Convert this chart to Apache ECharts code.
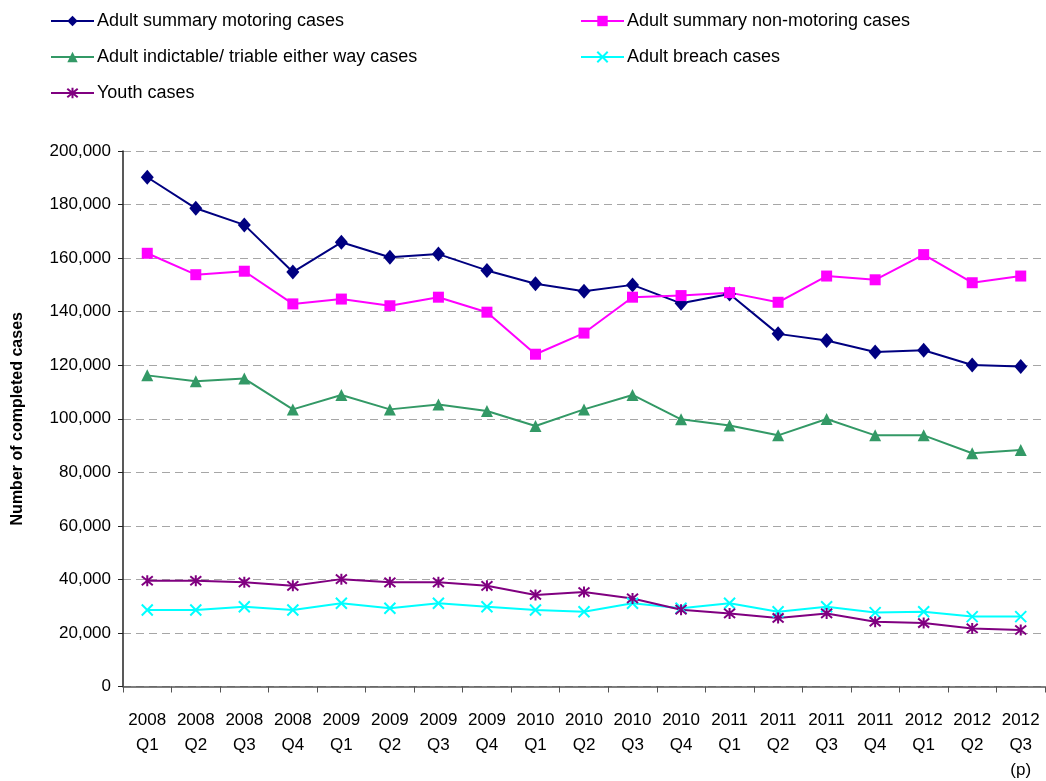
<!DOCTYPE html>
<html>
<head>
<meta charset="utf-8">
<script src="https://cdn.jsdelivr.net/npm/echarts@6/dist/echarts.min.js"></script>
<style>
  html, body { margin: 0; padding: 0; background: #fff; }
  #chart { width: 1046px; height: 781px; }
</style>
</head>
<body>
<div id="chart"></div>
<script>
// Quarterly completed cases, 2008 Q1 to 2012 Q3 (provisional)
const quarters = [
  '2008\nQ1', '2008\nQ2', '2008\nQ3', '2008\nQ4',
  '2009\nQ1', '2009\nQ2', '2009\nQ3', '2009\nQ4',
  '2010\nQ1', '2010\nQ2', '2010\nQ3', '2010\nQ4',
  '2011\nQ1', '2011\nQ2', '2011\nQ3', '2011\nQ4',
  '2012\nQ1', '2012\nQ2', '2012\nQ3\n(p)'
];

const summaryMotoring = [
  190200, 178600, 172400, 154800, 165900, 160300, 161500, 155400, 150400,
  147600, 150000, 143100, 146600, 131700, 129200, 124900, 125600, 120100, 119500
];
const summaryNonMotoring = [
  161800, 153800, 155100, 142900, 144700, 142200, 145400, 139800, 124100,
  132000, 145400, 146000, 147100, 143500, 153300, 151900, 161300, 150800, 153300
];
const indictableEitherWay = [
  116200, 114000, 115000, 103500, 108900, 103500, 105300, 102900, 97300,
  103500, 108900, 99800, 97500, 93800, 99900, 93800, 93800, 87100, 88300
];
const breachCases = [
  28600, 28600, 29800, 28600, 31100, 29200, 31100, 29800, 28600,
  27900, 31100, 29200, 31100, 27900, 29800, 27600, 27900, 26100, 26100
];
const youthCases = [
  39500, 39500, 38900, 37600, 40100, 38900, 38900, 37600, 34200,
  35300, 32900, 28700, 27300, 25600, 27300, 24200, 23700, 21700, 21100
];

const FONT = 'Liberation Sans, Arial, sans-serif';

const crossPath = 'path://M0,0L10,10M10,0L0,10';
const asteriskPath = 'path://M0,0L10,10M10,0L0,10M5,-1L5,11';

function lineSeries(name, data, color, symbol, size, hollow) {
  return {
    name: name,
    type: 'line',
    data: data,
    symbol: symbol,
    symbolSize: size,
    showAllSymbol: true,
    lineStyle: { color: color, width: 2 },
    itemStyle: hollow
      ? { color: 'none', borderColor: color, borderWidth: 2 }
      : { color: color, borderWidth: 0 },
    emphasis: { disabled: true },
    z: 3
  };
}

const chart = echarts.init(document.getElementById('chart'), null, { renderer: 'canvas' });

const legendCommon = {
  orient: 'vertical',
  itemWidth: 43,
  itemHeight: 13,
  itemGap: 18,
  textStyle: { fontFamily: FONT, fontSize: 18, color: '#000', padding: [0, 0, 0, -2] },
  selectedMode: false
};

chart.setOption({
  backgroundColor: '#fff',
  animation: false,
  textStyle: { fontFamily: FONT },
  legend: [
    Object.assign({}, legendCommon, {
      left: 45, top: 7,
      data: ['Adult summary motoring cases', 'Adult indictable/ triable either way cases', 'Youth cases']
    }),
    Object.assign({}, legendCommon, {
      left: 575, top: 7,
      data: ['Adult summary non-motoring cases', 'Adult breach cases']
    })
  ],
  grid: { left: 123, right: 1, top: 151, bottom: 94.5, containLabel: false, outerBoundsMode: 'none' },
  xAxis: {
    type: 'category',
    data: quarters,
    boundaryGap: true,
    axisLine: { lineStyle: { color: '#555', width: 1.5 } },
    axisTick: { show: true, length: 6, alignWithLabel: false, lineStyle: { color: '#555' } },
    axisLabel: {
      interval: 0, fontSize: 17, color: '#000', lineHeight: 25, margin: 21, fontFamily: FONT
    },
    splitLine: { show: false }
  },
  yAxis: {
    type: 'value',
    min: 0, max: 200000, interval: 20000,
    name: 'Number of completed cases',
    nameLocation: 'middle',
    nameRotate: 90,
    nameGap: 97,
    nameTextStyle: { fontSize: 16, fontWeight: 'bold', color: '#000', fontFamily: FONT },
    axisLine: { show: true, lineStyle: { color: '#222', width: 1.5 } },
    axisTick: { show: true, length: 5, lineStyle: { color: '#222' } },
    axisLabel: {
      fontSize: 17, color: '#000', margin: 12, fontFamily: FONT,
      formatter: v => v.toLocaleString('en-US')
    },
    splitLine: { show: true, lineStyle: { color: '#a6a6a6', type: [8, 5], width: 1.2 } }
  },
  series: [
    lineSeries('Adult summary motoring cases', summaryMotoring, '#000080', 'diamond', [13, 15]),
    lineSeries('Adult summary non-motoring cases', summaryNonMotoring, '#FF00FF', 'rect', 11),
    lineSeries('Adult indictable/ triable either way cases', indictableEitherWay, '#339966', 'triangle', 12),
    lineSeries('Adult breach cases', breachCases, '#00FFFF', crossPath, 11, true),
    lineSeries('Youth cases', youthCases, '#800080', asteriskPath, 11, true)
  ]
});
</script>
</body>
</html>
